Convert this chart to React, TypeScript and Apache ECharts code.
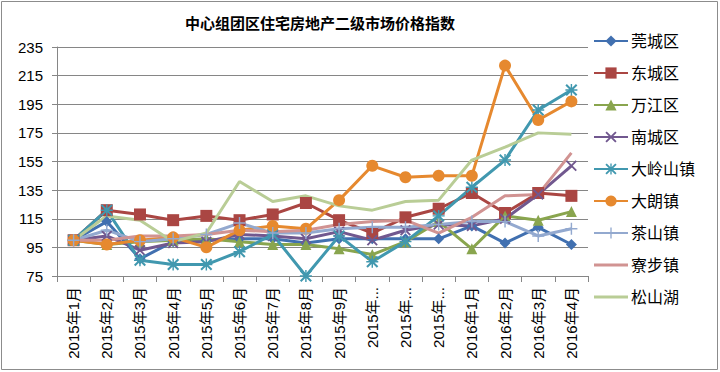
import React, { useEffect, useRef } from "react";
import * as echarts from "echarts";

const categories = [
  "2015年1月", "2015年2月", "2015年3月", "2015年4月", "2015年5月", "2015年6月",
  "2015年7月", "2015年8月", "2015年9月", "2015年10月", "2015年11月", "2015年12月",
  "2016年1月", "2016年2月", "2016年3月", "2016年4月",
];

const yTicks = { min: 75, max: 235, interval: 20 };

const guanCheng = [100, 113, 87, 99, 100, 101, 101, 98, 101, 101, 101, 101, 110, 98, 109, 97];
const dongCheng = [100, 121, 118, 114, 117, 114, 118, 126, 114, 105, 116, 122, 133, 119, 133, 131];
const wanJiang = [100, 97, 99, 100, 101, 99, 97, 97, 94, 90, 99, 113, 94, 117, 114, 120];
const nanCheng = [100, 103, 93, 98, 99, 104, 103, 101, 106, 100, 107, 111, 110, 115, 132, 152];
const daLingShan = [100, 121, 86, 83, 83, 92, 104, 75, 103, 85, 99, 117, 137, 156, 191, 205];
const daLang = [100, 97, 100, 102, 95, 107, 110, 108, 128, 152, 144, 145, 145, 222, 184, 197];
const chaShan = [100, 107, 99, 101, 104, 112, 105, 105, 108, 109, 109, 111, 113, 113, 103, 108];
const liaoBu = [100, 100, 103, 103, 104, 107, 106, 107, 111, 113, 114, 105, 116, 131, 132, 161];
const songShanHu = [100, 117, 114, 99, 105, 141, 127, 131, 124, 121, 127, 128, 156, 165, 175, 174];

const seriesNames = ["莞城区", "东城区", "万江区", "南城区", "大岭山镇", "大朗镇", "茶山镇", "寮步镇", "松山湖"];

const X_PATH = "path://M0,1.2 L1.2,0 L5,3.8 L8.8,0 L10,1.2 L6.2,5 L10,8.8 L8.8,10 L5,6.2 L1.2,10 L0,8.8 L3.8,5 Z";
const PLUS_PATH = "path://M4.4,0 L5.6,0 L5.6,4.4 L10,4.4 L10,5.6 L5.6,5.6 L5.6,10 L4.4,10 L4.4,5.6 L0,5.6 L0,4.4 L4.4,4.4 Z";
const STAR_PATH =
  "path://M0,1.2 L1.2,0 L5,3.8 L8.8,0 L10,1.2 L6.2,5 L10,8.8 L8.8,10 L5,6.2 L1.2,10 L0,8.8 L3.8,5 Z M4.4,0 L5.6,0 L5.6,4.4 L10,4.4 L10,5.6 L5.6,5.6 L5.6,10 L4.4,10 L4.4,5.6 L0,5.6 L0,4.4 L4.4,4.4 Z";
// legend icon: a plain line (degenerate triangles keep the bounding box at full item size)
const LINE_ICON = "path://M0,0 L34,0 L34,0.001 Z M0,5.5 L34,5.5 L34,8.5 L0,8.5 Z M0,14 L34,14 L34,13.999 Z";

const FONT = "'Liberation Sans', 'Noto Sans CJK SC', sans-serif";

export default function App() {
  const ref = useRef<HTMLDivElement>(null);

  useEffect(() => {
    if (!ref.current) return;
    const chart = echarts.init(ref.current, null, { renderer: "svg" });

    const mk = (
      name: string,
      data: number[],
      color: string,
      symbol: string,
      symbolSize: number
    ) => ({
      name,
      type: "line",
      data,
      symbol,
      symbolSize,
      showSymbol: symbol !== "none",
      lineStyle: { color, width: 3 },
      itemStyle: { color, borderWidth: 0 },
      emphasis: { disabled: true },
    });

    chart.setOption({
      animation: false,
      backgroundColor: "#ffffff",
      textStyle: { fontFamily: FONT },
      graphic: [
        {
          type: "rect",
          shape: { x: 1.5, y: 1.5, width: 716, height: 368 },
          style: { fill: "none", stroke: "#8c8c8c", lineWidth: 1 },
          silent: true,
        },
        {
          type: "text",
          x: 320,
          y: 22,
          style: {
            text: "中心组团区住宅房地产二级市场价格指数",
            textAlign: "center",
            textVerticalAlign: "middle",
            font: "bold 15px 'Noto Sans CJK SC', sans-serif",
            fill: "#000000",
          },
        },
      ],
      legend: {
        orient: "vertical",
        left: 593,
        top: 33,
        padding: 0,
        itemWidth: 34,
        itemHeight: 14,
        itemGap: 16,
        textStyle: { fontSize: 16, color: "#000", fontFamily: FONT, padding: [0, 0, 0, -2] },
        data: seriesNames.map((n) =>
          n === "寮步镇" || n === "松山湖" ? { name: n, icon: LINE_ICON } : { name: n }
        ),
      },
      grid: { left: 57, right: 132, top: 47, bottom: 96, containLabel: false },
      xAxis: {
        type: "category",
        data: categories,
        boundaryGap: true,
        axisLine: { lineStyle: { color: "#868686", width: 1 } },
        axisTick: { show: true, length: 6, interval: 0, lineStyle: { color: "#868686" } },
        axisLabel: {
          rotate: 90,
          interval: 0,
          margin: 11,
          fontSize: 15,
          color: "#000",
          fontFamily: FONT,
          formatter: (v: string) => (v.length > 7 ? v.slice(0, 5) + "..." : v),
        },
      },
      yAxis: {
        type: "value",
        min: yTicks.min,
        max: yTicks.max,
        interval: yTicks.interval,
        axisLine: { show: true, lineStyle: { color: "#868686", width: 1 } },
        axisTick: { show: true, length: 5, lineStyle: { color: "#868686" } },
        axisLabel: { fontSize: 15, color: "#000", margin: 14, fontFamily: FONT },
        splitLine: { show: true, lineStyle: { color: "#868686", width: 1 } },
      },
      series: [
        mk("莞城区", guanCheng, "#4170B0", "diamond", 11),
        mk("东城区", dongCheng, "#AA4643", "rect", 12),
        mk("万江区", wanJiang, "#89A54E", "triangle", 11),
        mk("南城区", nanCheng, "#71588F", X_PATH, 11),
        mk("大岭山镇", daLingShan, "#4198AF", STAR_PATH, 12),
        mk("大朗镇", daLang, "#E6892F", "circle", 12),
        mk("茶山镇", chaShan, "#93A9CF", PLUS_PATH, 12),
        mk("寮步镇", liaoBu, "#D19392", "none", 0),
        mk("松山湖", songShanHu, "#B9CD96", "none", 0),
      ],
    });

    return () => chart.dispose();
  }, []);

  return (
    <div
      ref={ref}
      style={{ position: "fixed", left: 0, top: 0, width: 720, height: 372 }}
    />
  );
}
